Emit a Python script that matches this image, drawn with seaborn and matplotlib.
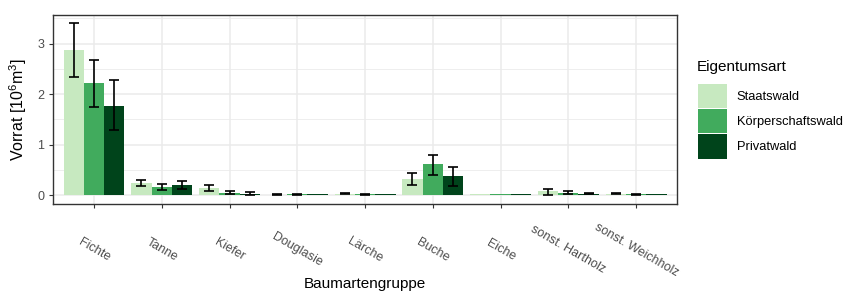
import numpy as np
import pandas as pd
import seaborn as sns
import matplotlib.pyplot as plt
from matplotlib.patches import Patch
from matplotlib.ticker import MultipleLocator

nan = np.nan

arten = ['Fichte', 'Tanne', 'Kiefer', 'Douglasie', 'Lärche', 'Buche', 'Eiche',
         'sonst. Hartholz', 'sonst. Weichholz']
eigentum = ['Staatswald', 'Körperschaftswald', 'Privatwald']
farben = ['#c7e9c0', '#41ab5d', '#00441b']

staat = [2.87, 0.25, 0.15, 0.015, 0.03, 0.33, 0.025, 0.08, 0.03]
staat_lo = [2.34, 0.18, 0.09, 0.005, 0.02, 0.21, nan, 0.01, 0.02]
staat_hi = [3.40, 0.31, 0.20, 0.02, 0.045, 0.44, nan, 0.12, 0.04]

koerp = [2.21, 0.16, 0.05, 0.02, 0.02, 0.61, 0.025, 0.05, 0.02]
koerp_lo = [1.74, 0.10, 0.02, 0.005, 0.01, 0.41, nan, 0.03, 0.01]
koerp_hi = [2.67, 0.23, 0.08, 0.035, 0.03, 0.80, nan, 0.08, 0.03]

privat = [1.77, 0.21, 0.03, 0.02, 0.02, 0.39, 0.025, 0.03, 0.02]
privat_lo = [1.29, 0.12, 0.01, nan, nan, 0.18, nan, 0.02, nan]
privat_hi = [2.27, 0.28, 0.06, nan, nan, 0.57, nan, 0.04, nan]

werte = [staat, koerp, privat]
unten = [staat_lo, koerp_lo, privat_lo]
oben = [staat_hi, koerp_hi, privat_hi]

df = pd.DataFrame({
    'art': np.tile(arten, 3),
    'eigentum': np.repeat(eigentum, len(arten)),
    'vorrat': np.concatenate(werte),
})

plt.rcParams['font.family'] = ['Liberation Sans', 'DejaVu Sans']

fig = plt.figure(figsize=(8.48, 2.93), dpi=100)
ax = fig.add_axes([0.0629, 0.3038, 0.798 - 0.0629, 0.95 - 0.3038])

sns.barplot(ax=ax, data=df, x='art', y='vorrat', hue='eigentum', order=arten,
            hue_order=eigentum, palette=farben, width=0.9, errorbar=None,
            saturation=1, legend=False, zorder=2)

# error bars on the dodged bar centres
for cont, v, lo, hi in zip(ax.containers, werte, unten, oben):
    xs = np.array([b.get_x() + b.get_width() / 2 for b in cont])
    v, lo, hi = np.array(v), np.array(lo), np.array(hi)
    ok = ~np.isnan(lo)
    ax.errorbar(xs[ok], v[ok], yerr=[v[ok] - lo[ok], hi[ok] - v[ok]], fmt='none',
                ecolor='black', elinewidth=1.2, capsize=3.6, capthick=1.2, zorder=3)

ax.set_xlim(-0.6, len(arten) - 0.4)
ax.set_ylim(-0.17, 3.57)
ax.yaxis.set_major_locator(MultipleLocator(1))
ax.yaxis.set_minor_locator(MultipleLocator(0.5))
ax.set_axisbelow(True)
ax.grid(which='major', color='#ebebeb', linewidth=1.1)
ax.grid(which='minor', axis='y', color='#ebebeb', linewidth=0.6)
ax.tick_params(axis='y', which='minor', length=0)
ax.tick_params(which='major', length=3, color='#333333', labelcolor='#4d4d4d',
               labelsize=9)
ax.tick_params(axis='x', pad=30)
for spine in ax.spines.values():
    spine.set_color('#333333')
    spine.set_linewidth(1.0)

for lab in ax.get_xticklabels():
    lab.set_rotation(-30)
    lab.set_ha('center')
    lab.set_va('center')
    lab.set_rotation_mode('anchor')

ax.set_xlabel('Baumartengruppe', fontsize=11, va='center')
ax.xaxis.set_label_coords(0.5, -0.423)
ax.set_ylabel(r'Vorrat [$\mathregular{10^6 m^3}$]', fontsize=11.5, labelpad=6)

# legend
fig.text(0.822, 0.771, 'Eigentumsart', fontsize=11, va='center', ha='left')
handles = [Patch(facecolor=c, edgecolor='none') for c in farben]
leg = fig.legend(handles, eigentum, loc='upper left',
                 bbox_to_anchor=(0.823, 0.713), frameon=False, fontsize=9.3,
                 handlelength=2.25, handleheight=2.5, borderpad=0,
                 handletextpad=0.75, labelspacing=0.08, borderaxespad=0)

plt.savefig('out.png', dpi=100)
